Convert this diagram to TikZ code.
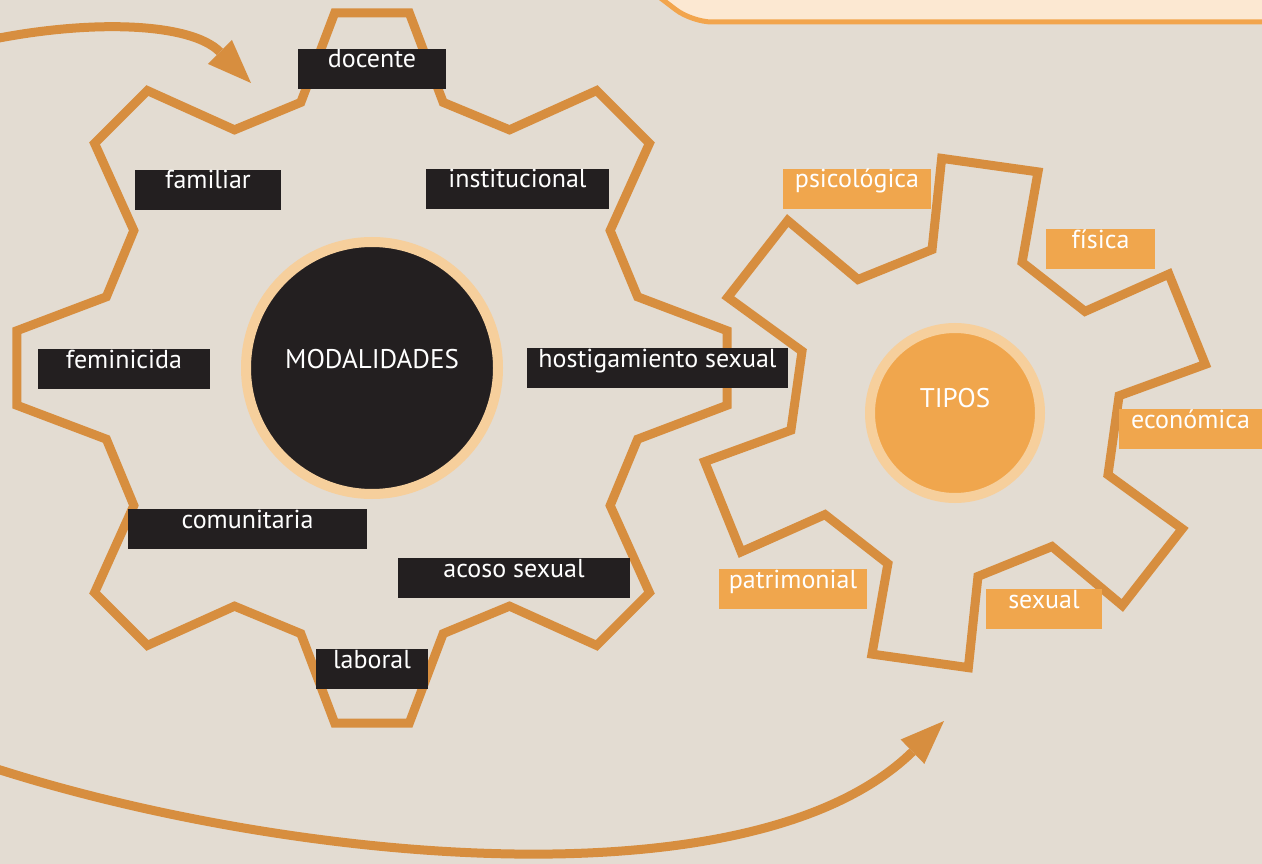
\documentclass[tikz,border=0pt]{standalone}
\usepackage{fontspec}
\setmainfont{PT Sans}
\usetikzlibrary{arrows.meta, positioning}
\definecolor{gearOrange}{HTML}{D78E3F}
\definecolor{mDark}{HTML}{231F20}
\definecolor{mOrange}{HTML}{F0A64D}
\definecolor{mRing}{HTML}{F6CF9C}
\definecolor{mPaper}{HTML}{E3DCD2}
\definecolor{mPanel}{HTML}{FCE8D2}
\definecolor{mPanelLine}{HTML}{F2A54D}

\tikzset{
  gearline/.style={draw=gearOrange, line width=9pt, line join=miter},
  flowarrow/.style={draw=gearOrange, line width=9pt,
    -{Triangle[length=44pt, width=34pt, line width=0pt]}},
  labelbox/.style={rectangle, inner xsep=0pt, inner ysep=0pt, minimum height=40pt,
    text height=19pt, text depth=21pt, text=white,
    font=\fontsize{26pt}{26pt}\selectfont},
  modbox/.style={labelbox, fill=mDark},
  tipobox/.style={labelbox, fill=mOrange},
  hub/.style={circle, line width=10pt, draw=mRing, text=white,
    font=\fontsize{27pt}{27pt}\selectfont},
}

\begin{document}
\begin{tikzpicture}[x=1pt, y=-1pt]
    \useasboundingbox (0,0) rectangle (1262,864);
    \clip (0,0) rectangle (1262,864);
    \fill[mPaper] (0,0) rectangle (1262,864);
    % panel at the top
    \draw[mPanelLine, fill=mPanel, line width=5pt, rounded corners=20pt]
      (650,-10) -- (692,22) -- (1280,22) -- (1280,-10);

    % arrows
    \coordinate (topstart) at (-6,39);
    \coordinate (toptip) at (251,83);
    \draw[flowarrow] (topstart) .. controls (90,20) and (190,22) .. (toptip);
    \coordinate (botstart) at (-6,768);
    \coordinate (bottip) at (944,721);
    \draw[flowarrow] (botstart) .. controls (280,860) and (750,910) .. (bottip);

    % gears
    \begin{scope}[shift={(372,368)}]
      \draw[gearline] (0:355.04) \foreach \a in {0,45,...,315} {
        -- ({\a+6}:357) -- ({\a+15}:275) -- ({\a+30}:275) -- ({\a+39}:357) } -- cycle;
    \end{scope}
    \begin{scope}[shift={(955,413)}]
      \draw[gearline] (38:250.3) \foreach \a in {38,98,...,338} {
        -- ({\a+11}:255) -- ({\a+16}:165) -- ({\a+44}:165) -- ({\a+49}:255) } -- cycle;
    \end{scope}

    \node[hub, fill=mDark, minimum size=252pt, text height=20pt, text depth=20pt]
      (modalidades) at (372,368) {MODALIDADES};
    \node[hub, fill=mOrange, minimum size=170pt, text height=20pt, text depth=32pt]
      (tipos) at (955,413) {TIPOS};

    % modalidades
    \node[modbox, minimum width=148pt] (docente) at (372,69) {docente};
    \node[modbox, minimum width=146pt] (familiar) at (208,190) {familiar};
    \node[modbox, minimum width=183pt] (institucional) at (517.5,189) {institucional};
    \node[modbox, minimum width=172pt] (feminicida) at (124,369) {feminicida};
    \node[modbox, minimum width=261pt] (hostigamiento) at (657.5,368) {hostigamiento sexual};
    \node[modbox, minimum width=239pt] (comunitaria) at (247.5,529) {comunitaria};
    \node[modbox, minimum width=232pt] (acoso) at (514,578) {acoso sexual};
    \node[modbox, minimum width=112pt] (laboral) at (372,669) {laboral};

    % tipos
    \node[tipobox, minimum width=148pt] (psicologica) at (857,189) {psicológica};
    \node[tipobox, minimum width=109pt] (fisica) at (1100.5,249) {física};
    \node[tipobox, minimum width=143pt] (economica) at (1190.5,429) {económica};
    \node[tipobox, minimum width=148pt] (patrimonial) at (793,589) {patrimonial};
    \node[tipobox, minimum width=116pt] (sexual) at (1044,609) {sexual};
\end{tikzpicture}
\end{document}
